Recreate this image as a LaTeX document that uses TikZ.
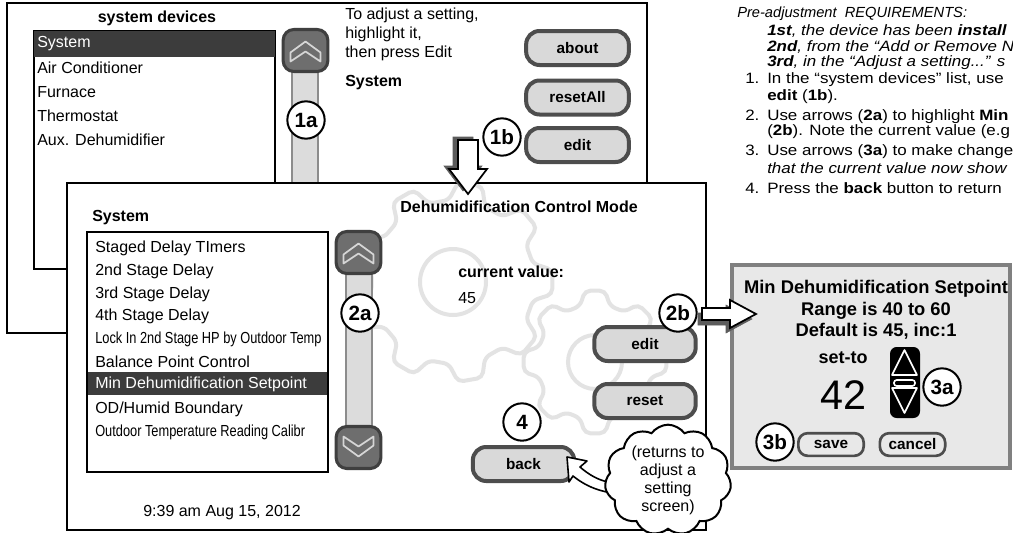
\documentclass[tikz,border=0pt]{standalone}
\usepackage{fontspec}
\setmainfont{Liberation Sans}
\newfontfamily\narrowfont[FakeStretch=0.8]{Liberation Sans}
\newfontfamily\widefont[FakeStretch=1.13]{Liberation Sans}
\usetikzlibrary{shapes.symbols}

\definecolor{btnfill}{HTML}{D9D9D9}
\definecolor{btnedge}{HTML}{4D4D4D}
\definecolor{scrollfill}{HTML}{6E6E6E}
\definecolor{scrolledge}{HTML}{3F3F3F}
\definecolor{trackfill}{HTML}{DCDCDC}
\definecolor{trackedge}{HTML}{8C8C8C}
\definecolor{chevcol}{HTML}{D6D6D6}
\definecolor{selfill}{HTML}{3C3C3C}
\definecolor{popfill}{HTML}{E8E8E8}
\definecolor{popedge}{HTML}{808080}
\definecolor{gearcol}{HTML}{E3E3E3}
\definecolor{arrowshade}{HTML}{5C5C5C}

\tikzset{
  screen/.style={draw, line width=1.9pt},
  listbox/.style={draw, line width=1.6pt, fill=white},
  entry/.style={anchor=west, inner sep=0pt, font=\fontsize{12}{14}\selectfont},
  narrowentry/.style={anchor=west, inner sep=0pt, font=\narrowfont\fontsize{12}{14}\selectfont},
  heading/.style={inner sep=0pt, font=\bfseries\fontsize{12}{14}\selectfont},
  btn/.style={draw=btnedge, fill=btnfill, line width=3pt, rounded corners=10pt,
    minimum width=77pt, minimum height=25.5pt, font=\bfseries\fontsize{11.5}{13}\selectfont},
  smallbtn/.style={draw=btnedge, line width=2pt, rounded corners=7pt,
    minimum width=49pt, minimum height=17pt, inner sep=0pt, font=\bfseries\fontsize{11.5}{13}\selectfont},
  stepmark/.style={circle, draw, fill=white, line width=1.5pt, inner sep=0pt,
    minimum size=28pt, font=\bfseries\fontsize{15.5}{16}\selectfont},
  scrollbtn/.style={draw=scrolledge, fill=scrollfill, line width=2.3pt, rounded corners=8pt,
    minimum width=33.5pt, minimum height=31.5pt},
  track/.style={draw=trackedge, fill=trackfill, line width=1.2pt},
  chevron/.style={draw=chevcol, line width=1.3pt, line join=round},
  gearline/.style={draw=gearcol, line width=3pt, rounded corners=4pt},
  note/.style={anchor=west, inner sep=0pt, font=\widefont\itshape\fontsize{11.25}{13}\selectfont},
  steptext/.style={anchor=west, inner sep=0pt, font=\widefont\fontsize{11.25}{13}\selectfont},
  chevup/.pic={\path[chevron] (-15,2) -- (0,-9) -- (15,2) -- (15,11) -- (0,1) -- (-15,11) -- cycle;},
  chevdown/.pic={\path[chevron] (-15,-2) -- (0,9) -- (15,-2) -- (15,-11) -- (0,-1) -- (-15,-11) -- cycle;},
  downarrow/.pic={\path[pic actions] (-10,0) -- (10,0) -- (10,29) -- (19,29) -- (0,54) -- (-19,29) -- (-10,29) -- cycle;},
  rightarrow/.pic={\path[pic actions] (0,-6) -- (28,-6) -- (28,-14) -- (54,0) -- (28,14) -- (28,6) -- (0,6) -- cycle;}
}

\begin{document}
\begin{tikzpicture}[x=0.75pt, y=-0.75pt]
\clip (0,0) rectangle (1013,532);
\fill[white] (0,0) rectangle (1013,532);

% screen 1: system devices
\draw[screen] (7,3) rectangle (647,333);
\node[heading] (devtitle) at (157,18) {system devices};
\draw[listbox] (34,31) rectangle (275,269);
\fill[selfill] (34,31) rectangle (275,57);
\begin{scope}[every node/.style={entry}]
    \node[text=white] (dev0) at (37,44) {System};
    \node (dev1) at (37,68) {Air Conditioner};
    \node (dev2) at (37,92) {Furnace};
    \node (dev3) at (37,116) {Thermostat};
    \node (dev4) at (37,140) {Aux. Dehumidifier};
\end{scope}
\draw[track] (292,70) rectangle (318,200);
\node[scrollbtn] (devup) at (305.5,50.5) {};
\pic at (devup) {chevup};
\node[stepmark] (s1a) at (306,120) {1a};
\node[anchor=west, align=left, inner sep=0pt, font=\fontsize{12}{14.25}\selectfont] (hint) at (345,34)
    {To adjust a setting,\\highlight it,\\then press Edit};
\node[heading, anchor=west] (devname) at (345,83) {System};
\node[btn] (about) at (577.5,48) {about};
\node[btn] (resetall) at (577.5,97.5) {resetAll};
\node[btn] (edit1) at (577.5,145) {edit};
\node[stepmark] (s1b) at (502,137) {1b};

% screen 2: Dehumidification Control Mode
\draw[screen, fill=white] (67,183) rectangle (706,530);
\begin{scope}
    \clip (68,184) rectangle (705,529);
    \begin{scope}[shift={(453,282)}]
        \draw[gearline] (-13:82) -- (-7:100) -- (7:100) -- (13:82)
            \foreach \a in {40,80,...,320} { -- (\a-13:82) -- (\a-7:100) -- (\a+7:100) -- (\a+13:82) } -- cycle;
        \draw[gearline] (0,0) circle (33);
    \end{scope}
    \begin{scope}[shift={(595,362)}]
        \draw[gearline] (-15:58) -- (-8:72) -- (8:72) -- (15:58)
            \foreach \a in {45,90,...,315} { -- (\a-15:58) -- (\a-8:72) -- (\a+8:72) -- (\a+15:58) } -- cycle;
        \draw[gearline] (0,0) circle (27);
    \end{scope}
\end{scope}
\node[heading, anchor=west] (sysname) at (92,218) {System};
\draw[listbox] (87,232) rectangle (328,472);
\fill[selfill] (88,372) rectangle (327,395);
\begin{scope}[every node/.style={entry}]
    \node (set1) at (95,248) {Staged Delay TImers};
    \node (set2) at (95,271) {2nd Stage Delay};
    \node (set3) at (95,294) {3rd Stage Delay};
    \node (set4) at (95,316) {4th Stage Delay};
    \node[narrowentry] (set5) at (95,339) {Lock In 2nd Stage HP by Outdoor Temp};
    \node (set6) at (95,362) {Balance Point Control};
    \node[text=white] (set7) at (95,384) {Min Dehumidification Setpoint};
    \node (set8) at (95,409) {OD/Humid Boundary};
    \node[narrowentry] (set9) at (95,432) {Outdoor Temperature Reading Calibr};
\end{scope}
\draw[track] (346,272) rectangle (372,426);
\node[scrollbtn] (setup) at (358.5,252.5) {};
\node[scrollbtn] (setdown) at (358.5,447.5) {};
\pic at (setup) {chevup};
\pic at (setdown) {chevdown};
\node[stepmark] (s2a) at (360,313) {2a};
\node[entry, anchor=center] (clock) at (222,513) {9:39 am Aug 15, 2012};
\node[heading] (modetitle) at (519,207) {Dehumidification Control Mode};
\node[heading, anchor=west] (curlabel) at (458,272) {current value:};
\node[entry] (curval) at (458,298) {45};
\node[btn, minimum width=76pt] (edit2) at (645,344) {edit};
\node[btn, minimum width=76pt] (reset) at (645,401) {reset};
\node[btn, minimum width=76pt] (back) at (523.5,464) {back};
\node[stepmark] (s2b) at (678,313) {2b};
\node[stepmark] (s4) at (522,422) {4};

% callout to back
\coordinate (backtip) at (567,457);
\draw[fill=white, line width=1.2pt, line join=round] (backtip) -- (587,461) -- (580,467)
    .. controls (595,480) and (608,484) .. (628,484) -- (628,494)
    .. controls (605,494) and (588,488) .. (573,476) -- (569,482) -- cycle;
\node[cloud, draw, fill=white, line width=1.5pt, cloud puffs=11, cloud puff arc=110, aspect=1.2,
    minimum width=86pt, minimum height=78pt, inner sep=0pt, align=center,
    font=\fontsize{12}{13.5}\selectfont] (cloudnote) at (668,480) {(returns to\\adjust a\\setting\\screen)};

% popup: set a new value
\draw[draw=popedge, fill=popfill, line width=3pt] (732,265) rectangle (1010,468);
\node[align=center, inner sep=0pt, font=\bfseries\fontsize{13.75}{16}\selectfont] (popinfo) at (876,310)
    {Min Dehumidification Setpoint\\Range is 40 to 60\\Default is 45, inc:1};
\node[inner sep=0pt, font=\bfseries\fontsize{13.5}{16}\selectfont] (setto) at (843,358) {set-to};
\node[inner sep=0pt, font=\fontsize{31}{32}\selectfont] (newval) at (843,395) {42};
\fill[rounded corners=5pt] (890,347) rectangle (920,418);
\draw[white, line width=1.2pt, line join=round] (892,375) -- (904.5,350) -- (917,375) -- cycle;
\draw[white, line width=1.2pt, rounded corners=2pt] (894,380) rectangle (915,386);
\draw[white, line width=1.2pt, line join=round] (892,388) -- (917,388) -- (904.5,413) -- cycle;
\node[stepmark] (s3a) at (942,387) {3a};
\node[smallbtn, fill=popfill] (save) at (831,444.5) {save};
\node[smallbtn, fill=popfill] (cancel) at (912.5,444.5) {cancel};
\node[stepmark] (s3b) at (775,442) {3b};

% block arrows
\pic[fill=arrowshade, draw=arrowshade] at (463,137) {downarrow};
\pic[fill=white, draw, line width=1.3pt] at (468,140) {downarrow};
\pic[fill=arrowshade, draw=arrowshade] at (698,319) {rightarrow};
\pic[fill=white, draw, line width=1.3pt] at (702,314) {rightarrow};

% instructions
\node[anchor=west, inner sep=0pt, font=\itshape\fontsize{11}{13}\selectfont] (req) at (737,14) {Pre-adjustment\ \ REQUIREMENTS:};
\node[note] (req1) at (767,31) {\textbf{1st}, the device has been \textbf{install}};
\node[note] (req2) at (767,47) {\textbf{2nd}, from the “Add or Remove N};
\node[note] (req3) at (767,63) {\textbf{3rd}, in the “Adjust a setting...” s};
\node[steptext] (do1) at (745,80) {\makebox[16.5pt][l]{1.}In the “system devices” list, use};
\node[steptext] (do1b) at (767,97) {\textbf{edit} (\textbf{1b}).};
\node[steptext] (do2) at (745,117) {\makebox[16.5pt][l]{2.}Use arrows (\textbf{2a}) to highlight \textbf{Min}};
\node[steptext] (do2b) at (767,132) {(\textbf{2b}). Note the current value (e.g};
\node[steptext] (do3) at (745,152) {\makebox[16.5pt][l]{3.}Use arrows (\textbf{3a}) to make change};
\node[note] (do3b) at (767,168) {that the current value now show};
\node[steptext] (do4) at (745,188) {\makebox[16.5pt][l]{4.}Press the \textbf{back} button to return};
\end{tikzpicture}
\end{document}
